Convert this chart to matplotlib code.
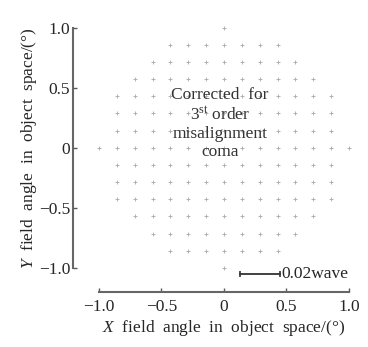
import numpy as np
import matplotlib
matplotlib.use("Agg")
import matplotlib.pyplot as plt

plt.rcParams['font.family'] = ['Liberation Serif', 'DejaVu Serif']
plt.rcParams['mathtext.fontset'] = 'custom'
plt.rcParams['mathtext.rm'] = 'Liberation Serif'
plt.rcParams['mathtext.it'] = 'Liberation Serif:italic'

# field sample levels (deg), sampled on a square grid inside the unit circle
field_levels = [-1.0, -0.857, -0.714, -0.571, -0.429, -0.286, -0.143, 0.0,
                0.143, 0.286, 0.429, 0.571, 0.714, 0.857, 1.0]
field_radius = 1.0

x_ticks = [-1.0, -0.5, 0, 0.5, 1.0]
x_ticklabels = ['\u22121.0', '\u22120.5', '0', '0.5', '1.0']
y_ticks = [-1.0, -0.5, 0, 0.5, 1.0]
y_ticklabels = ['\u22121.0', '\u22120.5', '0', '0.5', '1.0']

# scale bar (0.02 wave)
scale_x = [0.13, 0.45]
scale_y = -1.05

fx = []
fy = []
for yy in field_levels:
    for xx in field_levels:
        if xx*xx + yy*yy <= field_radius**2 + 1e-6:
            fx.append(xx)
            fy.append(yy)

fs = 12.5
fig = plt.figure(figsize=(3.68, 3.47), dpi=100)
ax = fig.add_axes([0.269, 0.228, 0.679, 0.692])

ax.plot(fx, fy, linestyle='none', marker='+', ms=2.4, mew=0.6,
        color='0.66', clip_on=False)

# scale bar
ax.plot(scale_x, [scale_y, scale_y], color='0.2', lw=1.3, clip_on=False)
ax.plot(scale_x, [scale_y, scale_y], linestyle='none', marker='|', ms=5,
        mew=1.2, color='0.2', clip_on=False)
ax.text(scale_x[1] + 0.01, scale_y, '0.02wave', fontsize=fs,
        va='center', ha='left', color='0.15')

ax.text(-0.03, 0.2, 'Corrected  for\n3$^{\\rm st}$ order\nmisalignment\ncoma',
        fontsize=fs, ha='center', va='center', color='0.2',
        linespacing=1.2)

ax.set_xlim(-1, 1)
ax.set_ylim(-1, 1)
for s in ['top', 'right']:
    ax.spines[s].set_visible(False)
ax.spines['left'].set_position(('outward', 18.7))
ax.spines['bottom'].set_position(('outward', 17.3))
ax.spines['left'].set_bounds(-1, 1)
ax.spines['bottom'].set_bounds(-1, 1)
for s in ['left', 'bottom']:
    ax.spines[s].set_color('0.4')
    ax.spines[s].set_linewidth(1.5)

ax.set_xticks(x_ticks)
ax.set_xticklabels(x_ticklabels)
ax.set_yticks(y_ticks)
ax.set_yticklabels(y_ticklabels)
ax.tick_params(direction='in', length=3, width=1, colors='0.35',
               labelcolor='0.15', labelsize=fs)
ax.tick_params(axis='x', pad=5)
ax.tick_params(axis='y', pad=2)

ax.set_xlabel('$X$  field  angle  in  object  space/(\u00b0)', fontsize=fs,
              color='0.15', labelpad=2)
ax.set_ylabel('$Y$  field  angle  in  object  space/(\u00b0)', fontsize=fs,
              color='0.15', labelpad=0)

fig.savefig('out.png', dpi=100)
